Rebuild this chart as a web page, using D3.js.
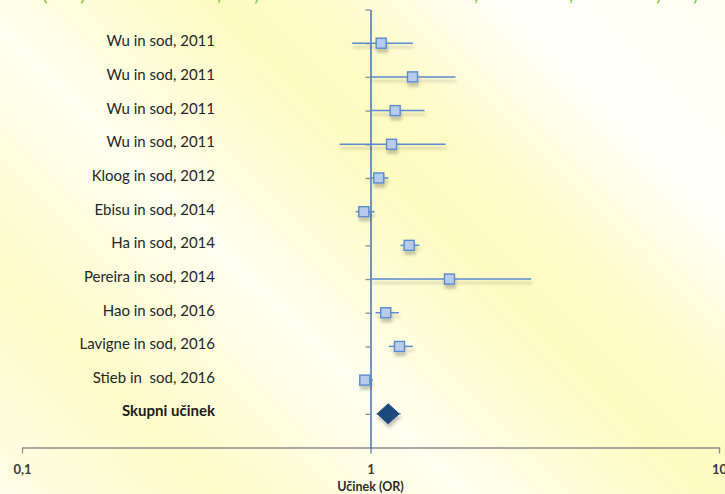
<!DOCTYPE html>
<html>
<head>
<meta charset="utf-8">
<script src="https://cdn.jsdelivr.net/npm/d3@7"></script>
<style>
  html, body { margin: 0; padding: 0; }
  svg { display: block; font-family: Lato, "Open Sans", sans-serif; }
  #labels text { white-space: pre; }
</style>
</head>
<body>
<svg id="forest-svg" width="725" height="494"></svg>
<script>
// Data
const studies = [
  "Wu in sod, 2011", "Wu in sod, 2011", "Wu in sod, 2011", "Wu in sod, 2011",
  "Kloog in sod, 2012", "Ebisu in sod, 2014", "Ha in sod, 2014", "Pereira in sod, 2014",
  "Hao in sod, 2016", "Lavigne in sod, 2016", "Stieb in  sod, 2016"
];
const oddsRatio = [1.073, 1.32, 1.177, 1.149, 1.056, 0.957, 1.291, 1.685, 1.106, 1.211, 0.963];
const lowerCI = [0.886, 1.0, 1.0, 0.815, 1.0, 0.906, 1.219, 1.0, 1.034, 1.129, 0.95];
const upperCI = [1.323, 1.754, 1.429, 1.642, 1.126, 1.027, 1.382, 2.89, 1.206, 1.323, 1.016];

const pooledLabel = "Skupni učinek";
const pooledOR = 1.124;
const pooledLower = 1.04;
const pooledUpper = 1.22;

const xTicks = [0.1, 1, 10];
const xTickLabels = ["0,1", "1", "10"];
const xTitle = "Učinek (OR)";

// Cut off title remnants at the very top
const topGlyphs = ["(", ")", ",", ")", ",", ",", ")", ")"];
const topGlyphX = [45, 83, 219, 257, 476, 571, 659, 696];

const svg = d3.select("#forest-svg");
const width = 725;
const height = 494;

// Background gradient
const defs = svg.append("defs");
const bg = defs
  .append("linearGradient")
  .attr("id", "bg-grad")
  .attr("gradientUnits", "userSpaceOnUse")
  .attr("x1", 0)
  .attr("y1", 494)
  .attr("x2", 609.5)
  .attr("y2", -115.5);
[
  [0, "#fffde6"],
  [0.18, "#fdfbc8"],
  [0.38, "#fffff0"],
  [0.58, "#fdfbc0"],
  [0.66, "#fefbc6"],
  [0.82, "#fffffa"],
  [1, "#fffff0"],
].forEach((s) => bg.append("stop").attr("offset", s[0]).attr("stop-color", s[1]));

const shadow = defs
  .append("filter")
  .attr("id", "shadow")
  .attr("x", "-20%")
  .attr("y", "-50%")
  .attr("width", "140%")
  .attr("height", "300%");
shadow
  .append("feDropShadow")
  .attr("dx", 1)
  .attr("dy", 4)
  .attr("stdDeviation", 1.6)
  .attr("flood-color", "#000")
  .attr("flood-opacity", 0.22);

svg.append("rect").attr("width", width).attr("height", height).attr("fill", "url(#bg-grad)");

svg
  .append("g")
  .attr("id", "top-glyphs")
  .selectAll("text")
  .data(topGlyphs)
  .enter()
  .append("text")
  .attr("x", (d, i) => topGlyphX[i])
  .attr("y", 1)
  .attr("text-anchor", "middle")
  .style("font-size", "20px")
  .style("fill", "#8cc84b")
  .text((d) => d);

// Scales
const xScale = d3.scaleLog().domain([0.1, 10]).range([22, 719]);
const yScale = d3.scaleLinear().domain([0, 13]).range([447.5, 9.5]);
const rowValue = (i) => 12 - i;

// X axis
const xAxis = d3
  .axisBottom(xScale)
  .tickValues(xTicks)
  .tickFormat((d, i) => xTickLabels[i])
  .tickSize(6)
  .tickSizeOuter(0)
  .tickPadding(11);

const xAxisG = svg
  .append("g")
  .attr("id", "x-axis")
  .attr("transform", `translate(0,${yScale(0)})`)
  .call(xAxis);
xAxisG.select(".domain").attr("stroke", "#8c8c8c").attr("stroke-width", 1.3);
xAxisG.selectAll(".tick line").attr("stroke", (d) => (d === 1 ? "#4a7ebb" : "#8c8c8c")).attr("stroke-width", 1.3);
xAxisG
  .selectAll(".tick text")
  .style("font-size", "13px")
  .style("font-weight", "bold")
  .style("fill", "#3a3a3a")
  .style("font-family", "Lato, sans-serif");

svg
  .append("text")
  .attr("x", xScale(1))
  .attr("y", 491)
  .attr("text-anchor", "middle")
  .style("font-size", "12.5px")
  .style("font-weight", "bold")
  .style("fill", "#2b2b2b")
  .text(xTitle);

// Y axis at OR = 1
const yAxis = d3
  .axisLeft(yScale)
  .tickValues(d3.range(1, 14))
  .tickFormat("")
  .tickSize(5)
  .tickSizeOuter(0);

const yAxisG = svg
  .append("g")
  .attr("id", "y-axis")
  .attr("transform", `translate(${xScale(1)},0)`)
  .call(yAxis);
yAxisG.select(".domain").attr("stroke", "#4a7ebb").attr("stroke-width", 1.6);
yAxisG.selectAll(".tick line").attr("stroke", "#8c8c8c").attr("stroke-width", 1.3);

// Study labels
const labels = svg.append("g").attr("id", "labels");
labels
  .selectAll("text")
  .data(studies)
  .enter()
  .append("text")
  .attr("x", 215)
  .attr("y", (d, i) => yScale(rowValue(i)) + 3)
  .attr("text-anchor", "end")
  .style("font-size", "15px")
  .style("fill", "#262626")
  .text((d) => d);

labels
  .append("text")
  .attr("x", 215)
  .attr("y", yScale(1) + 2)
  .attr("text-anchor", "end")
  .style("font-size", "15px")
  .style("font-weight", "bold")
  .style("fill", "#1a1a1a")
  .text(pooledLabel);

// Marks
const marks = svg.append("g").attr("id", "marks").attr("filter", "url(#shadow)");

marks
  .selectAll(".ci-line")
  .data(studies)
  .enter()
  .append("line")
  .classed("ci-line", true)
  .attr("x1", (d, i) => xScale(lowerCI[i]))
  .attr("x2", (d, i) => xScale(upperCI[i]))
  .attr("y1", (d, i) => yScale(rowValue(i)))
  .attr("y2", (d, i) => yScale(rowValue(i)))
  .attr("stroke", "#5a8ad0")
  .attr("stroke-width", 1.5);

marks
  .selectAll(".or-square")
  .data(studies)
  .enter()
  .append("rect")
  .classed("or-square", true)
  .attr("x", (d, i) => xScale(oddsRatio[i]) - 5)
  .attr("y", (d, i) => yScale(rowValue(i)) - 5)
  .attr("width", 10)
  .attr("height", 10)
  .attr("fill", "#b9cbea")
  .attr("stroke", "#5a8ad0")
  .attr("stroke-width", 1.4);

marks
  .append("line")
  .attr("x1", xScale(pooledLower))
  .attr("x2", xScale(pooledUpper))
  .attr("y1", yScale(1))
  .attr("y2", yScale(1))
  .attr("stroke", "#5a8ad0")
  .attr("stroke-width", 1.5);

const dx = xScale(pooledOR);
const dy = yScale(1);
marks
  .append("path")
  .attr("d", `M${dx - 11},${dy} L${dx},${dy - 10} L${dx + 11},${dy} L${dx},${dy + 10} Z`)
  .attr("fill", "#1f497d")
  .attr("stroke", "#1f497d")
  .attr("stroke-width", 1);
</script>
</body>
</html>
